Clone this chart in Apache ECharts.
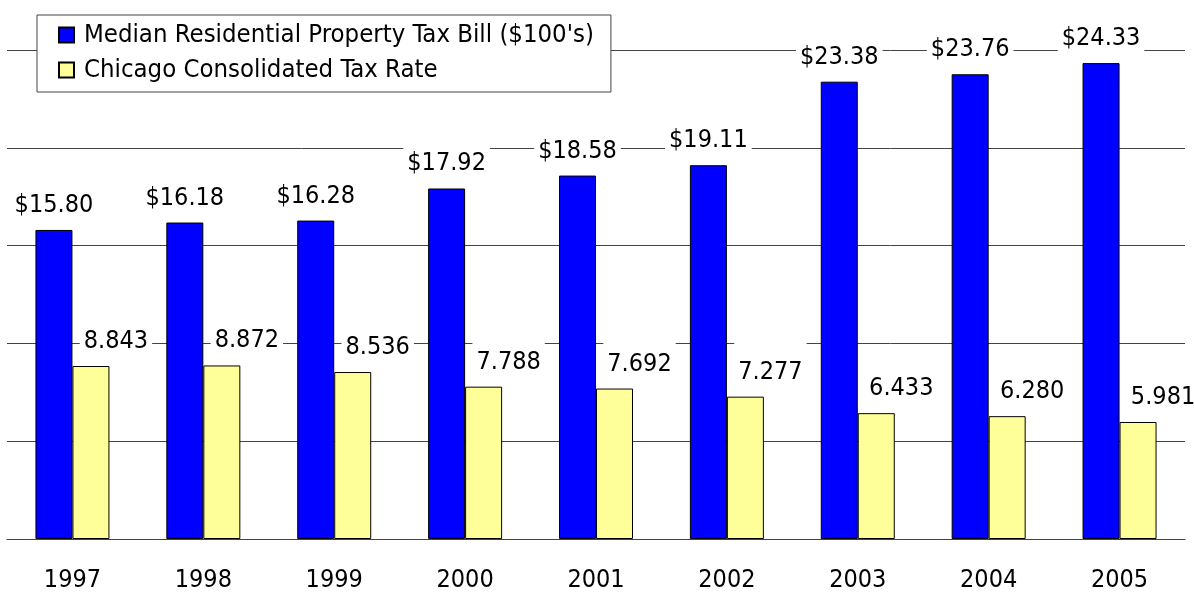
<!DOCTYPE html>
<html>
<head>
<meta charset="utf-8">
<script src="https://cdn.jsdelivr.net/npm/echarts@6/dist/echarts.min.js"></script>
<style>
  html, body { margin: 0; padding: 0; background: #fff; }
  #chart { width: 1194px; height: 593px; }
</style>
</head>
<body>
<div id="chart"></div>
<script>
const years = ['1997', '1998', '1999', '2000', '2001', '2002', '2003', '2004', '2005'];
const medianTaxBill = [15.80, 16.18, 16.28, 17.92, 18.58, 19.11, 23.38, 23.76, 24.33];
const consolidatedRate = [8.843, 8.872, 8.536, 7.788, 7.692, 7.277, 6.433, 6.280, 5.981];
const seriesNames = ["Median Residential Property Tax Bill ($100's)", 'Chicago Consolidated Tax Rate'];

const FONT = '"DejaVu Sans Condensed", "Noto Sans", sans-serif';
const chart = echarts.init(document.getElementById('chart'), null, { renderer: 'canvas' });

const labelBase = {
  show: true,
  position: 'top',
  fontFamily: FONT,
  fontSize: 25,
  color: '#000',
  backgroundColor: '#fff',
  padding: [20, 4, 2, 4],
  distance: 10
};

chart.setOption({
  animation: false,
  backgroundColor: '#fff',
  textStyle: { fontFamily: FONT },
  legend: {
    orient: 'vertical',
    left: 37,
    top: 15,
    padding: [7, 17, 9, 21],
    itemGap: 9,
    itemWidth: 15,
    itemHeight: 15,
    icon: 'rect',
    backgroundColor: '#fff',
    borderColor: '#444',
    borderWidth: 1,
    textStyle: { fontFamily: FONT, fontSize: 25.5, color: '#000', padding: [0, 0, 0, 5] },
    data: seriesNames
  },
  grid: { left: 7, right: 9, top: 50, bottom: 52, containLabel: false },
  xAxis: {
    type: 'category',
    data: years,
    axisLine: { lineStyle: { color: '#444', width: 1 } },
    axisTick: { show: false },
    axisLabel: { fontFamily: FONT, fontSize: 25, color: '#000', margin: 29 }
  },
  yAxis: {
    type: 'value',
    min: 0,
    max: 25,
    interval: 5,
    axisLabel: { show: false },
    axisLine: { show: false },
    axisTick: { show: false },
    splitLine: { lineStyle: { color: '#444', width: 1 } }
  },
  series: [
    {
      name: seriesNames[0],
      type: 'bar',
      data: medianTaxBill,
      barWidth: 37,
      barGap: '0%',
      itemStyle: { color: '#0000ff', borderColor: '#000', borderWidth: 1 },
      label: Object.assign({}, labelBase, {
        formatter: p => '$' + p.value.toFixed(2)
      })
    },
    {
      name: seriesNames[1],
      type: 'bar',
      data: consolidatedRate,
      barWidth: 37,
      barGap: '0%',
      itemStyle: { color: '#ffff99', borderColor: '#000', borderWidth: 1 },
      label: Object.assign({}, labelBase, {
        offset: [25, 0],
        formatter: p => p.value.toFixed(3)
      })
    }
  ]
});
</script>
</body>
</html>
